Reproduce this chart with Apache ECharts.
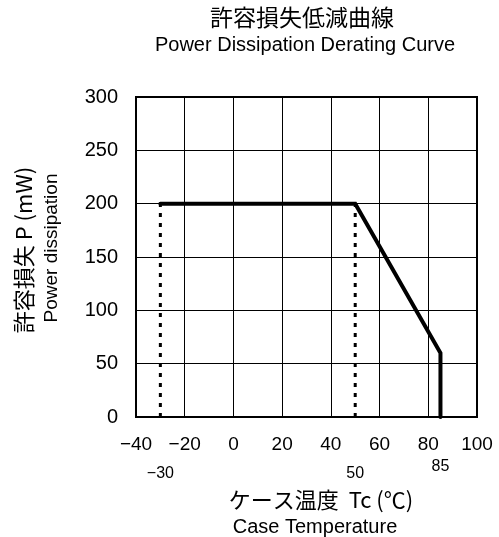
<!DOCTYPE html>
<html>
<head>
<meta charset="utf-8">
<script src="https://cdn.jsdelivr.net/npm/echarts@6/dist/echarts.min.js"></script>
<style>
html,body{margin:0;padding:0;background:#fff;}
#chart{width:499px;height:537px;}
</style>
</head>
<body>
<div id="chart"></div>
<script>
// Data
var titleText = '許容損失低減曲線';
var subtitleText = 'Power Dissipation Derating Curve';
var xNameJa = 'ケース温度  Tc (℃)';
var xNameEn = 'Case Temperature';
var yNameJa = '許容損失 P (mW)';
var yNameEn = 'Power dissipation';
var deratingTemp = [-30, 50, 85, 85];
var deratingPower = [200, 200, 60, 0];
var markerTemps = [-30, 50];
var markerPower = [0, 200];
var extraTickLabels = [-30, 50, 85];

var JP = '"Noto Sans CJK JP", sans-serif';
var LAT = '"Liberation Sans", Arial, sans-serif';

var curve = deratingTemp.map(function (t, i) { return [t, deratingPower[i]]; });
var markerSeries = markerTemps.map(function (t) {
  return {
    type: 'line', xAxisIndex: 0, yAxisIndex: 0, symbol: 'none', silent: true,
    data: markerPower.map(function (p) { return [t, p]; }),
    lineStyle: { color: '#000', width: 3, type: [4, 6] }, z: 3
  };
});

var chart = echarts.init(document.getElementById('chart'), null, { renderer: 'canvas' });
chart.setOption({
  animation: false,
  backgroundColor: '#fff',
  grid: { left: 136, right: 22, top: 97, bottom: 120, show: true, borderColor: '#000', borderWidth: 2, containLabel: false },
  xAxis: [{
    type: 'value', min: -40, max: 100, interval: 20, position: 'bottom',
    axisLine: { show: true, onZero: false, lineStyle: { color: '#000', width: 2 } },
    axisTick: { show: false },
    splitLine: { show: true, lineStyle: { color: '#000', width: 1 } },
    axisLabel: { color: '#000', fontFamily: LAT, fontSize: 19, margin: 18,
      formatter: function (v) { return String(v).replace('-', '\u2212'); } }
  }, {
    type: 'value', min: -40, max: 100, position: 'bottom', offset: 0,
    axisLine: { show: false }, axisTick: { show: false }, splitLine: { show: false },
    axisLabel: { color: '#000', fontFamily: LAT, fontSize: 16, margin: 42,
      customValues: extraTickLabels,
      formatter: function (v) {
        var s = String(v).replace('-', '\u2212');
        return v === 85 ? '{h|' + s + '}' : '{l|' + s + '}';
      },
      rich: {
        h: { fontFamily: LAT, fontSize: 16, color: '#000', padding: [0, 0, 0, 0] },
        l: { fontFamily: LAT, fontSize: 16, color: '#000', padding: [7, 0, 0, 0] }
      }
    }
  }],
  yAxis: {
    type: 'value', min: 0, max: 300, interval: 50,
    axisLine: { show: true, onZero: false, lineStyle: { color: '#000', width: 2 } },
    axisTick: { show: false },
    splitLine: { show: true, lineStyle: { color: '#000', width: 1 } },
    axisLabel: { color: '#000', fontFamily: LAT, fontSize: 20, margin: 18 }
  },
  series: [{
    type: 'line', symbol: 'none', silent: true, data: curve,
    lineStyle: { color: '#000', width: 4, cap: 'round', join: 'miter' }, z: 4
  }].concat(markerSeries),
  graphic: [
    { type: 'text', x: 302, y: 17, style: { text: titleText, font: '23px ' + JP, fill: '#000', align: 'center', verticalAlign: 'middle' } },
    { type: 'text', x: 305, y: 45, style: { text: subtitleText, font: '20px ' + LAT, fill: '#000', align: 'center', verticalAlign: 'middle' } },
    { type: 'text', x: 321, y: 500, style: { text: xNameJa, font: '22px ' + JP, fill: '#000', align: 'center', verticalAlign: 'middle' } },
    { type: 'text', x: 315, y: 527, style: { text: xNameEn, font: '20px ' + LAT, fill: '#000', align: 'center', verticalAlign: 'middle' } },
    { type: 'text', x: 24, y: 250, rotation: Math.PI / 2, style: { text: yNameJa, font: '22px ' + JP, fill: '#000', align: 'center', verticalAlign: 'middle' } },
    { type: 'text', x: 52, y: 248, rotation: Math.PI / 2, style: { text: yNameEn, font: '19px ' + LAT, fill: '#000', align: 'center', verticalAlign: 'middle' } }
  ]
});
</script>
</body>
</html>
